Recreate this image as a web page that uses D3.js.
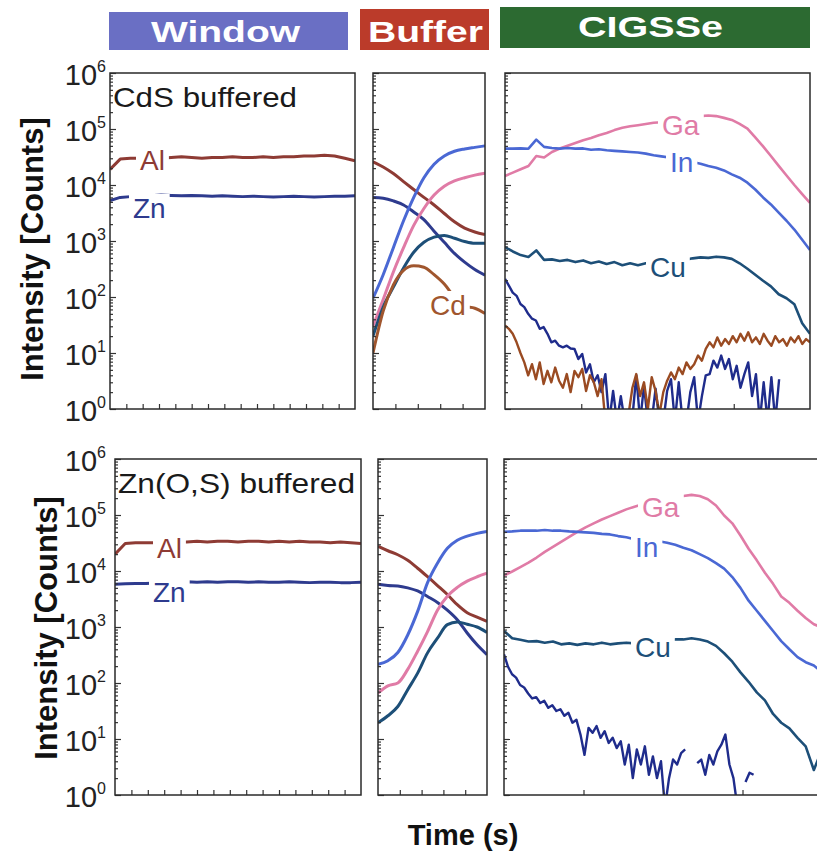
<!DOCTYPE html>
<html><head><meta charset="utf-8">
<script src="https://cdn.jsdelivr.net/npm/d3@7"></script>
<style>body{margin:0;background:#fff;} svg{display:block;font-family:"Liberation Sans",Arial,Helvetica,sans-serif;}</style>
</head><body>
<script>
// ---------------- DATA ----------------
const headerNames = ["Window", "Buffer", "CIGSSe"];
const sampleNames = ["CdS buffered", "Zn(O,S) buffered"];
const tickExps = [0, 1, 2, 3, 4, 5, 6];
const windowSpan = [0, 150], bufferSpan = [150, 220], cigsSpan = [220, 420];
const tickSteps = [10, 14, 50];

// CdS buffered - Window
const winTopAl = [1.9e4,2.9e4,3.0e4,3.0e4,3.1e4,3.0e4,3.1e4,3.2e4,3.1e4,3.0e4,3.1e4,3.1e4,3.2e4,3.1e4,3.1e4,3.2e4,3.1e4,3.2e4,3.2e4,3.3e4,3.3e4,3.4e4,3.3e4,3.0e4,2.7e4];
const winTopZn = [5.3e3,6.0e3,6.2e3,6.3e3,6.4e3,6.6e3,6.5e3,6.4e3,6.5e3,6.4e3,6.3e3,6.4e3,6.3e3,6.2e3,6.3e3,6.2e3,6.1e3,6.2e3,6.3e3,6.2e3,6.1e3,6.2e3,6.3e3,6.3e3,6.4e3];
// CdS buffered - Buffer
const bufTopAl = [2.6e4,2.1e4,1.6e4,1.15e4,8.3e3,6.0e3,4.4e3,3.1e3,2.2e3,1.7e3,1.45e3,1.3e3];
const bufTopZn = [6.0e3,5.8e3,5.2e3,4.4e3,3.3e3,2.4e3,1.5e3,950,600,420,310,245];
const bufTopIn = [95,250,760,2.3e3,6.0e3,1.35e4,2.35e4,3.3e4,4.0e4,4.4e4,4.7e4,5.0e4];
const bufTopGa = [30,90,280,760,1.9e3,3.8e3,6.6e3,9.5e3,1.18e4,1.35e4,1.5e4,1.62e4];
const bufTopCu = [20,66,150,330,630,950,1.17e3,1.26e3,1.12e3,980,910,910];
const bufTopCd = [10,56,165,300,360,340,250,170,100,68,63,51];
// CdS buffered - CIGSSe
const cigTopGa = [1.45e4,1.66e4,1.91e4,2.19e4,3.3e4,3.09e4,3.89e4,4.47e4,5.01e4,5.62e4,6.31e4,6.92e4,7.76e4,8.51e4,9.55e4,1.05e5,1.12e5,1.17e5,1.23e5,1.29e5,1.32e5,1.38e5,1.48e5,1.55e5,1.66e5,1.70e5,1.74e5,1.70e5,1.58e5,1.45e5,1.23e5,1.02e5,7.1e4,4.9e4,3.3e4,2.2e4,1.48e4,1.0e4,6.9e3,4.8e3];
const cigTopIn = [4.47e4,4.47e4,4.5e4,4.45e4,6.46e4,4.79e4,4.57e4,4.47e4,4.57e4,4.47e4,4.5e4,4.27e4,4.36e4,4.17e4,4.07e4,3.98e4,3.89e4,3.8e4,3.63e4,3.39e4,3.24e4,3.09e4,2.88e4,2.75e4,2.57e4,2.4e4,2.19e4,2.04e4,1.82e4,1.55e4,1.35e4,1.1e4,8.3e3,6.0e3,4.5e3,3.2e3,2.3e3,1.6e3,1.05e3,690];
const cigTopCu = [780,650,560,520,680,460,470,440,460,420,450,400,430,390,420,370,400,370,400,400,410,415,425,460,490,510,500,525,510,480,400,320,250,195,155,112,95,74,34,22];
const cigTopZn = [210,160,120,105,75,66,50,41,38,27, 29,22,15.5,16.6,13.5,12.6,13.5,12,11.8,7.8, 9.6,4.5,6.3,3.0,4.0,2.0,4.2,0.6,2.1,0.6, 1.7,0.6,0.6,0.7,4.0,0.6,2.6,0.6,0.6,2.3, 0.6,0.6,2.1,3.4,0.6,3.0,0.6,0.6,2.0,3.7, 0.6,1.7,4.0,4.2,7.3,5.5,9.0,5.2,7.8,3.4, 5.9,2.4,4.2,6.8,1.7,4.2,0.6,3.0,0.6,3.7, 0.6,3.4,null,null,null,null,null,null,null,null];
const cigTopCd = [31,27,22,15.5,10,6.8,4.0,6.3,3.4,6.8, 2.8,4.8,3.0,5.5,3.2,2.4,4.2,2.0,4.8,3.7, 5.2,2.1,4.0,3.0,1.7,3.4,0.6,0.6,0.6,0.6, 0.6,0.6,0.8,2.4,4.2,1.7,3.0,1.0,3.7,2.1, 0.8,2.0,3.2,4.5,3.4,5.5,4.2,6.8,5.2,6.3, 9.0,7.3,11.8,15.5,12.6,19,13.5,17.7,14.5,20, 15.5,22,16.6,23.5,15.5,19,14.5,22,16.6,13.5, 20,15.5,17.7,13.5,19,15.5,20,14.5,17.7,15.5];

// Zn(O,S) buffered - Window
const winBotAl = [2.0e4,3.1e4,3.2e4,3.2e4,3.2e4,3.3e4,3.3e4,3.3e4,3.4e4,3.3e4,3.4e4,3.4e4,3.3e4,3.4e4,3.4e4,3.3e4,3.4e4,3.3e4,3.4e4,3.3e4,3.3e4,3.2e4,3.3e4,3.2e4,3.1e4];
const winBotZn = [5.8e3,5.9e3,6.0e3,6.0e3,6.1e3,6.2e3,6.3e3,6.4e3,6.3e3,6.4e3,6.3e3,6.4e3,6.4e3,6.3e3,6.4e3,6.3e3,6.3e3,6.4e3,6.3e3,6.2e3,6.3e3,6.3e3,6.2e3,6.2e3,6.3e3];
// Zn(O,S) buffered - Buffer
const bufBotAl = [2.75e4,2.3e4,1.95e4,1.55e4,1.12e4,7.9e3,5.5e3,3.8e3,2.5e3,1.8e3,1.5e3,1.26e3];
const bufBotZn = [5.8e3,5.5e3,5.4e3,5.0e3,4.4e3,3.5e3,2.75e3,2.0e3,1.35e3,780,480,320];
const bufBotIn = [215,250,350,720,1.9e3,6.2e3,1.38e4,2.55e4,3.55e4,4.2e4,4.7e4,5.1e4];
const bufBotGa = [66,89,100,175,370,830,2.0e3,3.55e3,5.1e3,6.6e3,7.9e3,9.1e3];
const bufBotCu = [19.5,26,38,76,150,345,630,1.1e3,1.23e3,1.12e3,1.0e3,800];
// Zn(O,S) buffered - CIGSSe
const cigBotGa = [8.3e3,9.8e3,1.17e4,1.41e4,1.74e4,2.19e4,2.69e4,3.31e4,4.07e4,5.01e4,6.03e4,7.08e4,8.32e4,9.55e4,1.1e5,1.26e5,1.41e5,1.55e5,1.66e5,1.82e5,1.95e5,2.09e5,2.19e5,2.29e5,2.19e5,1.91e5,1.48e5,9.8e4,7.1e4,4.3e4,2.5e4,1.55e4,9.3e3,5.9e3,3.5e3,2.7e3,1.95e3,1.45e3,1.12e3,980];
const cigBotIn = [5.0e4,5.1e4,5.25e4,5.25e4,5.25e4,5.4e4,5.25e4,5.25e4,5.1e4,5.0e4,4.9e4,4.8e4,4.6e4,4.5e4,4.2e4,4.0e4,3.7e4,3.6e4,3.5e4,3.4e4,3.2e4,2.95e4,2.6e4,2.35e4,2.0e4,1.7e4,1.38e4,1.1e4,7.8e3,5.0e3,2.95e3,1.95e3,1.29e3,850,560,400,290,235,205,155];
const cigBotCu = [850,630,590,550,560,525,550,490,510,480,510,490,525,490,510,525,510,525,550,560,590,600,600,630,600,550,460,340,240,155,105,68,49,28,19.5,15.5,10.5,7.4,2.8,6.5];
const cigBotZn = [325,195,143,125,92,83,65,53,56,44, 48,36,40,31.6,34,26,29.5,19.5,22,12, 5.2,15.8,12.9,17,10.5,13.8,8.5,10.5,6.9,9.1, 3.5,7.9,2.0,6.5,3.5,7.4,2.3,4.9,2.0,4.0, 0.6,2.0,4.3,3.5,5.6,6.5,null,null,3.7,4.3, 2.3,5.2,3.5,6.0,7.9,12,3.5,2.0,0.6,null, 1.7,2.5,2.3,null,null,null,null,null,null,null, null,null,null,null,null,null,null,null,null,null];

// ---------------- DRAW ----------------
const COL = {Al:"#8e3b34", Zn:"#2e3b8e", In:"#4a68d4", Ga:"#e07ba6", Cu:"#1d4f78", Cd:"#a0562e", ZnN:"#1f2c8c", CdN:"#9a4b22"};
const svg = d3.select("body").append("svg").attr("width", 817).attr("height", 853);

// header boxes
const headers = [
  {x:109, y:12, w:239, h:38, fill:"#6a6fc4", tx:225.5, ty:42, fs:29, tl:149},
  {x:360, y:9,  w:129, h:41, fill:"#bb3b2a", tx:425.5, ty:42, fs:29, tl:115},
  {x:500, y:7,  w:310, h:41, fill:"#2c6a31", tx:650.5, ty:37, fs:30, tl:145}
];
headers.forEach((h, i) => {
  svg.append("rect").attr("x", h.x).attr("y", h.y).attr("width", h.w).attr("height", h.h).attr("fill", h.fill);
  svg.append("text").attr("x", h.tx).attr("y", h.ty).attr("text-anchor", "middle")
    .attr("font-size", h.fs).attr("font-weight", "bold").attr("fill", "#fff")
    .attr("textLength", h.tl).attr("lengthAdjust", "spacingAndGlyphs").text(headerNames[i]);
});

const rows = [{y0:73, y1:409}, {y0:459, y1:795}];
const spans = [windowSpan, bufferSpan, cigsSpan];

const panels = [
  {row:0, col:0, x0:110, x1:355, series:[[winTopAl,COL.Al,3,false],[winTopZn,COL.Zn,3,false]], labels:[["Al",COL.Al,140,170],["Zn",COL.Zn,133,218]]},
  {row:0, col:1, x0:373, x1:485, series:[[bufTopAl,COL.Al,3,true],[bufTopZn,COL.Zn,3,true],[bufTopIn,COL.In,3,true],[bufTopGa,COL.Ga,3,true],[bufTopCu,COL.Cu,3,true],[bufTopCd,COL.Cd,3,true]], labels:[["Cd",COL.Cd,430,315]]},
  {row:0, col:2, x0:505, x1:810, series:[[cigTopGa,COL.Ga,2.6,false],[cigTopIn,COL.In,2.6,false],[cigTopCu,COL.Cu,2.6,false],[cigTopZn,COL.ZnN,2.4,false],[cigTopCd,COL.CdN,2.4,false]], labels:[["Ga",COL.Ga,662,135],["In",COL.In,670,172],["Cu",COL.Cu,650,277]]},
  {row:1, col:0, x0:115, x1:361, series:[[winBotAl,COL.Al,3,false],[winBotZn,COL.Zn,3,false]], labels:[["Al",COL.Al,157,558],["Zn",COL.Zn,153,602]]},
  {row:1, col:1, x0:378, x1:487, series:[[bufBotAl,COL.Al,3,true],[bufBotZn,COL.Zn,3,true],[bufBotIn,COL.In,3,true],[bufBotGa,COL.Ga,3,true],[bufBotCu,COL.Cu,3,true]], labels:[]},
  {row:1, col:2, x0:504, x1:822, series:[[cigBotGa,COL.Ga,2.6,false],[cigBotIn,COL.In,2.6,false],[cigBotCu,COL.Cu,2.6,false],[cigBotZn,COL.ZnN,2.4,false]], labels:[["Ga",COL.Ga,642,517],["In",COL.In,635,557],["Cu",COL.Cu,635,657]]}
];

const majors = tickExps.map(e => Math.pow(10, e));
const minors = [];
for (let e = 0; e < 6; e++) for (let m = 2; m <= 9; m++) minors.push(m * Math.pow(10, e));

panels.forEach((p, pi) => {
  const r = rows[p.row];
  const span = spans[p.col];
  const x = d3.scaleLinear().domain(span).range([p.x0, p.x1]);
  const y = d3.scaleLog().domain([1, 1e6]).range([r.y1, r.y0]);
  const g = svg.append("g");
  const cid = "clip" + pi;
  svg.append("clipPath").attr("id", cid).append("rect")
    .attr("x", p.x0).attr("y", r.y0).attr("width", p.x1 - p.x0).attr("height", r.y1 - r.y0);
  const lg = g.append("g").attr("clip-path", `url(#${cid})`);
  p.series.forEach(([vals, color, w, smooth]) => {
    const n = vals.length;
    const pts = vals.map((v, i) => ({t: span[0] + i * (span[1] - span[0]) / (n - 1), v}));
    const line = d3.line().defined(d => d.v != null).x(d => x(d.t)).y(d => y(d.v))
      .curve(smooth ? d3.curveMonotoneX : d3.curveLinear);
    lg.append("path").datum(pts).attr("d", line).attr("fill", "none")
      .attr("stroke", color).attr("stroke-width", w).attr("stroke-linejoin", "round");
  });
  // labels with white background (gap in line)
  p.labels.forEach(([name, color, lx, ly]) => {
    const lgp = g.append("g");
    const t = lgp.append("text").attr("x", lx).attr("y", ly).attr("font-size", 28).attr("fill", color).text(name);
    const bb = t.node().getBBox();
    lgp.insert("rect", "text").attr("x", bb.x - 4).attr("y", bb.y + 1).attr("width", bb.width + 8).attr("height", bb.height - 2).attr("fill", "#fff");
  });
  // y axis ticks (inward)
  const ax1 = g.append("g").attr("transform", `translate(${p.x0},0)`)
    .call(d3.axisRight(y).tickValues(majors).tickSize(6).tickFormat(""));
  ax1.select(".domain").remove();
  const ax2 = g.append("g").attr("transform", `translate(${p.x0},0)`)
    .call(d3.axisRight(y).tickValues(minors).tickSize(3).tickFormat(""));
  ax2.select(".domain").remove();
  // x axis ticks (inward)
  const xt = d3.range(span[0] + tickSteps[p.col], span[1] - 0.001, tickSteps[p.col]);
  const ax3 = g.append("g").attr("transform", `translate(0,${r.y1})`)
    .call(d3.axisTop(x).tickValues(xt).tickSize(5).tickFormat(""));
  ax3.select(".domain").remove();
  g.selectAll(".tick line").attr("stroke", "#333").attr("stroke-width", 1.2);
  // frame
  g.append("rect").attr("x", p.x0).attr("y", r.y0).attr("width", p.x1 - p.x0).attr("height", r.y1 - r.y0)
    .attr("fill", "none").attr("stroke", "#2a2a2a").attr("stroke-width", 1.5);

  if (p.col === 0) {
    // tick labels 10^n
    tickExps.forEach(e => {
      const t = svg.append("text").attr("x", 106).attr("y", y(Math.pow(10, e)) + 12)
        .attr("text-anchor", "end").attr("font-size", 29).attr("fill", "#222");
      t.append("tspan").text("10");
      t.append("tspan").attr("dy", -13).attr("font-size", 16).text(String(e));
    });
    // sample name
    svg.append("text").attr("x", p.x0 + 3).attr("y", p.row === 0 ? 107 : 493)
      .attr("font-size", 28).attr("fill", "#1a1a1a")
      .attr("textLength", p.row === 0 ? 184 : 237).attr("lengthAdjust", "spacingAndGlyphs")
      .text(sampleNames[p.row]);
    // y title
    const cx = p.row === 0 ? 43 : 57, cy = p.row === 0 ? 249 : 628;
    svg.append("text").attr("transform", `translate(${cx},${cy}) rotate(-90)`)
      .attr("text-anchor", "middle").attr("font-size", 31).attr("font-weight", "bold").attr("fill", "#111")
      .text("Intensity [Counts]");
  }
});

svg.append("text").attr("x", 463).attr("y", 845).attr("text-anchor", "middle")
  .attr("font-size", 29).attr("font-weight", "bold").attr("fill", "#111").text("Time (s)");
</script>
</body></html>
